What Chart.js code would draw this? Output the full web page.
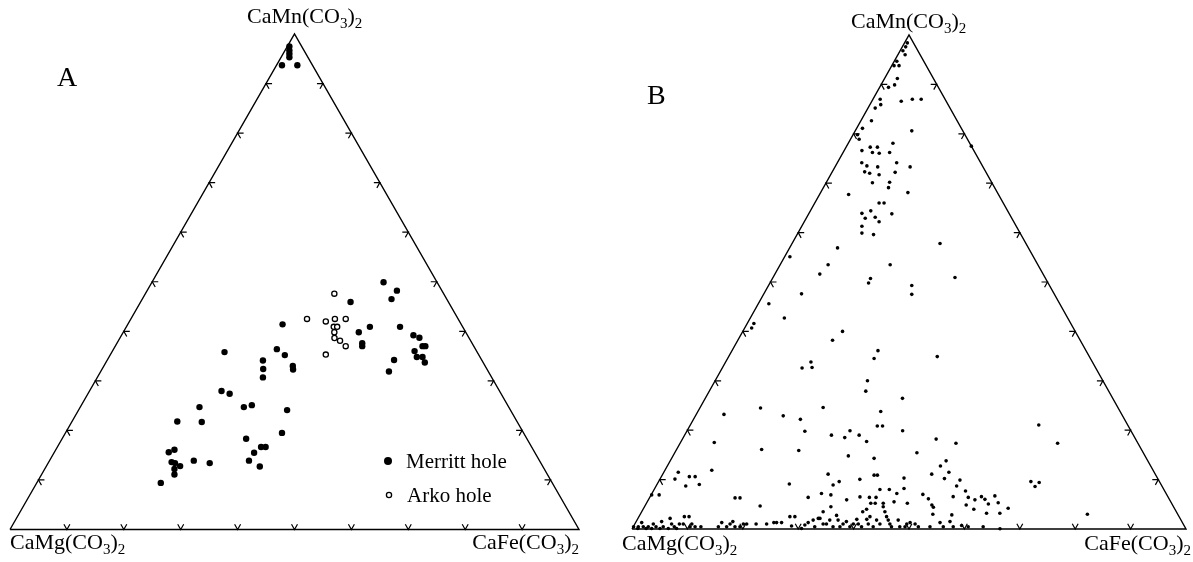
<!DOCTYPE html>
<html>
<head>
<meta charset="utf-8">
<script src="https://cdn.jsdelivr.net/npm/chart.js@4.4.1/dist/chart.umd.min.js"></script>
<style>
  html, body { margin: 0; padding: 0; background: #fff; }
  #wrap { position: relative; width: 1193px; height: 562px; }
  canvas { position: absolute; top: 0; }
  #chartA { left: 0; }
  #chartB { left: 600px; }
</style>
</head>
<body>
<div id="wrap">
  <canvas id="chartA" width="600" height="562"></canvas>
  <canvas id="chartB" width="593" height="562"></canvas>
</div>
<script>
// ── DATA (mole % CaMn(CO3)2 and CaFe(CO3)2, rest is CaMg(CO3)2) ─────
const vertexLabels = ['CaMg(CO3)2', 'CaFe(CO3)2', 'CaMn(CO3)2'];
const tickSteps = [10, 20, 30, 40, 50, 60, 70, 80, 90];

// panel A, Merritt hole
const mnMerritt = [97.5, 96.7, 96.0, 95.3, 93.7, 93.7,
  49.9, 48.2, 46.5, 45.9, 41.4, 40.9, 40.9, 39.8, 37.6, 37.0, 39.2, 38.7, 37.0, 37.0,
  36.0, 34.8, 34.8, 33.7, 34.2, 31.9, 35.8, 36.4, 35.2, 34.1, 32.4, 30.7, 33.0, 32.3,
  27.95, 27.4, 24.7, 24.7, 25.1, 24.1, 21.8, 21.7, 19.5, 18.3, 16.65, 16.65, 15.5, 13.9,
  12.7, 15.6, 16.1, 13.9, 13.4, 13.4, 12.8, 12.2, 11.1, 9.4, 13.6];
const feMerritt = [0.35, 0.75, 1.1, 1.45, 0.95, 3.65,
  40.7, 43.9, 43.8, 36.9, 27.2, 42.8, 48.1, 41.4, 43.1, 43.4, 51.3, 52.6, 54.0, 54.5,
  53.1, 54.1, 55.1, 56.05, 50.4, 50.65, 19.8, 28.7, 30.7, 27.4, 28.3, 29.1, 33.2, 33.6,
  23.2, 24.9, 20.95, 28.75, 29.95, 36.65, 18.5, 22.85, 38.05, 32.35, 35.8, 36.6, 35.15, 35.05,
  37.55, 20.1, 20.85, 25.35, 28.4, 22.3, 23.5, 22.8, 23.35, 21.8, 21.6];

// panel A, Arko hole
const mnArko = [47.6, 42.5, 42.0, 42.5, 42.5, 40.9, 40.9, 39.8, 38.65, 38.1, 37.0, 35.3];
const feArko = [33.2, 30.95, 34.5, 35.85, 37.75, 36.45, 37.05, 37.1, 37.7, 38.95, 40.5, 37.85];

// panel B
const mnB = [
  98.4, 97.6, 96.8, 96.0, 94.7, 93.8, 93.8, 91.2, 89.9, 89.4, 87.0, 85.9, 85.2, 86.6, 87.0, 87.0,
  82.65, 81.1, 79.8, 78.9, 80.6, 77.5, 76.6, 77.3, 77.3, 76.2, 76.05, 78.1, 76.2, 74.15, 73.5, 72.3,
  72.0, 73.3, 71.7, 74.15, 72.2, 73.3, 70.1, 70.2, 69.1, 67.7, 68.1, 66.0, 66.0, 63.9, 64.4, 62.9,
  63.1, 62.2, 63.8, 61.3, 59.9, 59.6, 56.9, 57.8,
  55.1, 53.5, 51.6, 53.5, 50.7, 49.8, 50.9, 49.3, 47.5, 47.6, 45.6, 42.7, 41.6, 40.7, 40.0, 38.2,
  36.1, 34.5, 34.9, 33.8, 32.6, 32.7,
  30.0, 27.9, 24.5, 23.2, 22.9, 22.2, 24.6, 19.8, 19.0, 18.5, 19.9, 19.0, 17.7, 17.5, 16.1, 15.9,
  14.8, 14.3, 23.8, 20.85, 20.85, 26.45, 19.9, 15.45,
  11.9, 10.1, 11.5, 10.6, 10.6, 8.7, 9.0, 6.9, 6.9, 6.3, 6.3, 4.65, 9.1, 6.4, 7.2, 3.5,
  11.1, 6.9, 4.5, 8.9, 9.6, 5.9, 10.05, 6.5, 3.5, 4.0, 6.4, 10.9, 10.9, 6.4, 5.2, 5.2,
  8.0, 5.2, 8.0, 5.5, 7.2, 10.3, 8.2, 5.2,
  0.47, 0.47, 0.47, 1.3, 0.47, 1.0, 0.47, 1.5, 0.47, 2.15, 1.0, 0.47, 1.0, 2.5, 1.0, 2.5,
  0.47, 1.0, 0.47, 0.47, 0.47, 1.3, 0.47, 1.0, 1.5, 0.47, 0.47, 1.0, 1.0, 1.0, 1.0, 1.3,
  1.3, 1.3, 2.5, 2.5, 0.6, 0.1, 0.8, 1.3, 1.8, 0.47, 2.15, 2.15, 1.0, 1.0, 1.8, 0.47,
  2.75, 1.8, 0.47, 1.0, 1.5, 0.47, 1.0, 1.95, 1.0, 0.47, 1.95, 1.0, 2.5, 0.47, 1.8, 1.0,
  4.5, 3.5, 2.5, 1.8, 1.0, 0.47, 1.8, 0.47, 0.47, 1.0, 1.3, 1.0, 0.47,
  0.1, 0.1, 0.1, 0.1, 0.1, 0.1,
  18.2, 17.35, 12.75, 13.8, 11.5, 11.1, 10.2, 9.9, 8.7, 7.7, 7.0, 6.1, 4.85, 4.4, 3.0, 6.55,
  4.85, 6.4, 4.0, 5.9, 6.55, 6.0, 5.05, 3.2, 6.7, 5.3, 3.2, 4.2, 2.85,
  1.3, 1.5, 0.47, 0.47, 0.47, 0.7, 0.47, 0.47, 0.05,
  9.6, 8.6, 9.4, 21.05, 17.35, 3.0];
const feB = [
  0.5, 0.6, 0.5, 1.3, 0.45, 0.4, 1.3, 2.3, 2.45, 1.6, 1.3, 1.95, 1.3, 5.3, 7.1, 8.7,
  1.9, 1.05, 0.8, 1.55, 10.2, 22.5, 3.2, 4.35, 5.65, 5.3, 6.6, 8.05, 8.4, 4.4, 5.65, 5.85,
  6.9, 7.7, 8.75, 10.7, 11.4, 13.55, 8.35, 11.4, 11.75, 5.25, 15.75, 11.6, 12.5, 9.55, 10.9, 10.65,
  12.35, 13.5, 15.0, 10.85, 11.55, 13.8, 8.65, 26.7,
  0.95, 8.65, 8.1, 19.85, 17.7, 17.8, 32.85, 25.85, 26.75, 6.8, 1.9, 6.15, 1.2, 1.25, 18.0, 17.1,
  26.35, 26.45, 37.65, 15.4, 14.4, 16.15,
  27.5, 28.25, 10.95, 5.0, 15.85, 19.3, 22.2, 21.3, 26.5, 29.15, 29.4, 31.5, 33.5, 6.1, 15.35, 22.15,
  31.65, 36.55, 33.0, 33.85, 34.8, 35.6, 38.9, 43.7,
  8.45, 2.7, 2.6, 5.05, 6.1, 5.35, 7.65, 0.1, 1.45, 15.45, 16.35, 20.8, 23.85, 28.6, 30.6, 32.75,
  29.85, 32.45, 33.65, 31.85, 32.6, 35.8, 36.1, 37.9, 39.9, 40.35, 39.65, 38.25, 38.85, 40.85, 40.5, 41.3,
  40.75, 42.75, 42.45, 44.55, 44.2, 43.95, 45.0, 47.1,
  0.05, 0.9, 1.8, 1.1, 2.7, 3.35, 4.1, 4.6, 5.4, 5.8, 6.65, 7.4, 8.05, 8.2, 8.75, 9.05,
  10.25, 10.3, 11.15, 12.2, 15.35, 15.55, 16.85, 17.2, 17.45, 18.35, 19.25, 19.6, 20.2, 21.9, 23.8, 24.95,
  25.45, 26.35, 27.25, 28.15, 28.5, 30.55, 30.8, 31.15, 31.8, 32.75, 32.55, 32.85, 34.0, 34.6, 34.8, 36.05,
  35.55, 36.3, 37.3, 37.6, 37.95, 39.1, 39.45, 39.6, 40.35, 41.2, 41.4, 42.15, 41.7, 43.3, 43.25, 44.25,
  43.1, 43.9, 44.7, 45.35, 46.05, 46.6, 47.15, 48.1, 49.05, 49.1, 49.55, 50.6, 51.45,
  1.0, 2.5, 3.5, 5.0, 6.5, 8.0,
  45.8, 49.8, 49.3, 49.8, 51.45, 48.55, 51.3, 54.25, 54.25, 56.35, 49.0, 50.45, 51.7, 52.2, 52.8, 54.7,
  57.9, 57.5, 59.7, 58.95, 59.8, 60.7, 61.8, 62.4, 62.15, 63.45, 64.8, 65.8, 56.3,
  54.95, 56.65, 53.55, 55.95, 57.75, 59.15, 60.45, 63.15, 66.4,
  67.2, 68.45, 68.8, 62.9, 68.15, 80.7];

// ── HELPERS ─────────────────────────────────────────────────────────
const SERIF = "'Liberation Serif', 'DejaVu Serif', serif";

// ternary -> cartesian in the 0..100 frame of the axes
function toXY(mn, fe) {
  return mn.map((m, i) => ({ x: fe[i] + m / 2, y: m }));
}

// "CaMn(CO3)2" with the digits set as subscripts
function drawFormula(ctx, text, x, y, align) {
  const parts = text.match(/[A-Za-z()]+|\d/g);
  const big = '22px ' + SERIF, small = '15px ' + SERIF;
  let w = 0;
  parts.forEach(p => { ctx.font = /\d/.test(p) ? small : big; w += ctx.measureText(p).width; });
  let cx = align === 'right' ? x - w : align === 'center' ? x - w / 2 : x;
  ctx.textAlign = 'left';
  ctx.textBaseline = 'alphabetic';
  parts.forEach(p => {
    const sub = /\d/.test(p);
    ctx.font = sub ? small : big;
    ctx.fillText(p, cx, sub ? y + 5 : y);
    cx += ctx.measureText(p).width;
  });
}

function unit(a, b) {
  const dx = b[0] - a[0], dy = b[1] - a[1], d = Math.hypot(dx, dy);
  return [dx / d, dy / d];
}

// ── PLUGIN: frame ticks, vertex labels, panel letter, legend ────────
const ternaryDecor = {
  id: 'ternaryDecor',
  afterDatasetsDraw(chart, args, opts) {
    const { ctx } = chart;
    const sx = chart.scales.x, sy = chart.scales.y;
    const px = (mn, fe) => [sx.getPixelForValue(fe + mn / 2), sy.getPixelForValue(mn)];
    const L = px(0, 0), R = px(0, 100), T = px(100, 0);
    const uLT = unit(L, T), uRT = unit(R, T), uLR = unit(L, R), uRL = unit(R, L);
    const uTR = unit(T, R), uTL = unit(T, L);
    const arm = 6;

    ctx.save();
    ctx.strokeStyle = '#000';
    ctx.lineWidth = 1.2;
    const chevron = (p, d1, d2) => {
      ctx.beginPath();
      ctx.moveTo(p[0] + d1[0] * arm, p[1] + d1[1] * arm);
      ctx.lineTo(p[0], p[1]);
      ctx.lineTo(p[0] + d2[0] * arm, p[1] + d2[1] * arm);
      ctx.stroke();
    };
    tickSteps.forEach(t => {
      chevron(px(0, t), uLT, uRT);          // base
      chevron(px(t, 0), uLR, uTR);          // CaMg - CaMn side
      chevron(px(t, 100 - t), uRL, uTL);    // CaFe - CaMn side
    });

    ctx.fillStyle = '#000';
    const lab = opts.labels;
    drawFormula(ctx, vertexLabels[0], lab.mg[0], lab.mg[1], 'left');
    drawFormula(ctx, vertexLabels[1], lab.fe[0], lab.fe[1], 'right');
    drawFormula(ctx, vertexLabels[2], lab.mn[0], lab.mn[1], 'left');

    ctx.font = '28px ' + SERIF;
    ctx.textAlign = 'left';
    ctx.fillText(opts.letter, opts.letterPos[0], opts.letterPos[1]);

    if (opts.legend) {
      const lg = opts.legend;
      ctx.font = '21px ' + SERIF;
      ctx.beginPath();
      ctx.arc(lg.x, lg.y1, 4, 0, Math.PI * 2);
      ctx.fill();
      ctx.fillText('Merritt hole', lg.x + 18, lg.y1 + 7);
      ctx.beginPath();
      ctx.lineWidth = 1.3;
      ctx.arc(lg.x + 1, lg.y2, 2.6, 0, Math.PI * 2);
      ctx.stroke();
      ctx.fillText('Arko hole', lg.x + 19, lg.y2 + 7);
    }
    ctx.restore();
  }
};

const frame = [{ x: 0, y: 0 }, { x: 100, y: 0 }, { x: 50, y: 100 }, { x: 0, y: 0 }];

function baseOptions(padding, decor) {
  return {
    responsive: false,
    animation: false,
    events: [],
    devicePixelRatio: 1,
    layout: { padding },
    scales: {
      x: { type: 'linear', display: false, min: 0, max: 100 },
      y: { type: 'linear', display: false, min: 0, max: 100 }
    },
    plugins: {
      legend: { display: false },
      tooltip: { enabled: false },
      ternaryDecor: decor
    }
  };
}

// ── PANEL A ─────────────────────────────────────────────────────────
new Chart(document.getElementById('chartA'), {
  type: 'scatter',
  data: {
    datasets: [
      {
        label: 'Merritt hole',
        data: toXY(mnMerritt, feMerritt),
        pointRadius: 3.2,
        backgroundColor: '#000',
        borderWidth: 0,
        clip: false
      },
      {
        label: 'Arko hole',
        data: toXY(mnArko, feArko),
        pointRadius: 2.6,
        backgroundColor: '#fff',
        borderColor: '#000',
        borderWidth: 1.3,
        clip: false
      },
      {
        data: frame,
        showLine: true,
        pointRadius: 0,
        borderColor: '#000',
        borderWidth: 1.4,
        clip: false
      }
    ]
  },
  options: baseOptions({ left: 10, right: 21, top: 34, bottom: 32.5 }, {
    labels: { mg: [10, 549], fe: [579, 549], mn: [247, 23] },
    letter: 'A', letterPos: [57, 86],
    legend: { x: 388, y1: 461, y2: 495 }
  }),
  plugins: [ternaryDecor]
});

// ── PANEL B ─────────────────────────────────────────────────────────
new Chart(document.getElementById('chartB'), {
  type: 'scatter',
  data: {
    datasets: [
      {
        label: 'samples',
        data: toXY(mnB, feB),
        pointRadius: 1.8,
        backgroundColor: '#000',
        borderWidth: 0,
        clip: false
      },
      {
        data: frame,
        showLine: true,
        pointRadius: 0,
        borderColor: '#000',
        borderWidth: 1.4,
        clip: false
      }
    ]
  },
  options: baseOptions({ left: 32, right: 7, top: 35, bottom: 33 }, {
    labels: { mg: [22, 550], fe: [591, 550], mn: [251, 28] },
    letter: 'B', letterPos: [47, 104],
    legend: null
  }),
  plugins: [ternaryDecor]
});
</script>
</body>
</html>
